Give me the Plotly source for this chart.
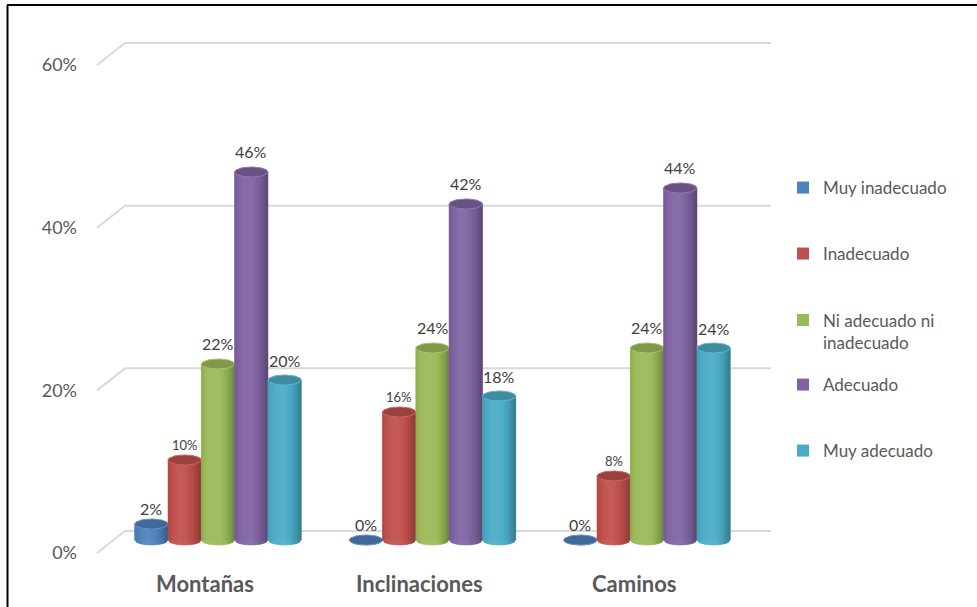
import numpy as np
import plotly.graph_objects as go

# ---- data -------------------------------------------------------------
categories = ["Montañas", "Inclinaciones", "Caminos"]
series_names = ["Muy inadecuado", "Inadecuado", "Ni adecuado ni<br>inadecuado",
                "Adecuado", "Muy adecuado"]
muy_inadecuado = [0.02, 0.00, 0.00]
inadecuado = [0.10, 0.16, 0.08]
ni_adecuado = [0.22, 0.24, 0.24]
adecuado = [0.46, 0.42, 0.44]
muy_adecuado = [0.20, 0.18, 0.24]
tick_vals = [0.0, 0.2, 0.4, 0.6]
tick_text = ["0%", "20%", "40%", "60%"]

series_values = [muy_inadecuado, inadecuado, ni_adecuado, adecuado, muy_adecuado]
colors = ["#4f81bd", "#c0504d", "#9bbb59", "#8064a2", "#4bacc6"]
label_sizes = [16, 13, 16, 16, 16]
label_shift = [16, 15, 21, 21, 20]

FONT = "Lato"

# ---- geometry of the pseudo-3D scene -----------------------------------
W, H = 977, 607
L, R, T, B = 97, 771, 20, 600           # plot area in pixels
X0, XS = 218.0, 214.5                   # pixel of category 0 centre, pixels per category
BAR_PX = 33.3
w = BAR_PX / XS                         # bar width in x units
r = w / 2
Y2_0, Y2_S = 540.0, 800.0               # bar plane: pixel of 0, pixels per unit
YG_0, YG_S = 531.0, 813.3               # back wall: pixel of 0, pixels per unit
DEPTH_PX = 22                           # front edge sits this far below back wall
e = 5.0 / Y2_S                          # half height of the cylinder caps

x_range = [(L - X0) / XS, (R - X0) / XS]
y2_range = [(Y2_0 - B) / Y2_S, (Y2_0 - T) / Y2_S]
yg_range = [(YG_0 - B) / YG_S, (YG_0 - T) / YG_S]


def px_x(p):
    return (p - L) / (R - L)


def px_y(p):
    return (B - p) / (B - T)


def shade(hexcol, f):
    c = np.array([int(hexcol[i:i + 2], 16) for i in (1, 3, 5)], dtype=float)
    if f <= 1:
        c = c * f
    else:
        c = c + (255 - c) * (f - 1)
    c = np.clip(c, 0, 255).astype(int)
    return "#%02x%02x%02x" % tuple(c)


fig = go.Figure()

N_STRIPS = 16
theta = np.linspace(0, 2 * np.pi, 61)

for k, (name, vals, col) in enumerate(zip(series_names, series_values, colors)):
    centers = [i + (k - 2) * w for i in range(len(categories))]
    legend_id = "legend" if k == 0 else f"legend{k + 1}"

    # base bar, carries the legend entry
    fig.add_trace(go.Bar(
        x=centers, y=vals, width=[w] * len(vals), base=0,
        name=name, marker=dict(color=col, line=dict(width=0)),
        xaxis="x", yaxis="y2", legend=legend_id, hoverinfo="skip",
    ))

    # cylindrical shading: vertical strips with rounded bottom
    edges = np.linspace(-r, r, N_STRIPS + 1)
    for j in range(N_STRIPS):
        xl, xr = edges[j], edges[j + 1]
        t = (xl + xr) / 2 / r
        f = 1.07 - 0.25 * (t + 0.2) ** 2
        sl = np.sqrt(max(0.0, 1 - (xl / r) ** 2))
        sr = np.sqrt(max(0.0, 1 - (xr / r) ** 2))
        xs, ys = [], []
        for c, v in zip(centers, vals):
            xs += [c + xl, c + xr, c + xr, c + xl, c + xl, None]
            ys += [v, v, -e * sr, -e * sl, v, None]
        sc = shade(col, f)
        fig.add_trace(go.Scatter(
            x=xs, y=ys, mode="lines", fill="toself", fillcolor=sc,
            line=dict(color=sc, width=0.6), xaxis="x", yaxis="y2",
            showlegend=False, hoverinfo="skip",
        ))

    # top caps
    xs, ys = [], []
    for c, v in zip(centers, vals):
        xs += list(c + r * np.cos(theta)) + [None]
        ys += list(v + e * np.sin(theta)) + [None]
    fig.add_trace(go.Scatter(
        x=xs, y=ys, mode="lines", fill="toself",
        fillcolor=shade(col, 0.82), line=dict(color=shade(col, 1.12), width=1),
        xaxis="x", yaxis="y2", showlegend=False, hoverinfo="skip",
    ))

    # value labels
    for c, v in zip(centers, vals):
        fig.add_annotation(
            x=c, y=v, xref="x", yref="y2", yshift=label_shift[k],
            text=f"{round(v * 100)}%", showarrow=False,
            font=dict(family=FONT, size=label_sizes[k], color="#404040"),
        )

# back-wall gridlines with the receding left edge
wall_left = px_x(125)
for v in tick_vals:
    fig.add_shape(type="line", xref="paper", yref="y", x0=wall_left, x1=1,
                  y0=v, y1=v, line=dict(color="#d9d9d9", width=2), layer="below")
    fig.add_shape(type="line", xref="paper", yref="y", x0=0, x1=wall_left,
                  y0=v - DEPTH_PX / YG_S, y1=v,
                  line=dict(color="#d9d9d9", width=2), layer="below")

# category labels along the front edge
for i, cat in enumerate(categories):
    fig.add_annotation(
        x=i, y=px_y(583), xref="x", yref="paper", xshift=-13,
        xanchor="center", yanchor="middle",
        text=f"<b>{cat}</b>", showarrow=False,
        font=dict(family=FONT, size=22, color="#595959"),
    )

# outer frame (top and left edges)
fig.add_shape(type="line", xref="paper", yref="paper",
              x0=px_x(7), x1=px_x(977), y0=px_y(5), y1=px_y(5),
              line=dict(color="black", width=2))
fig.add_shape(type="line", xref="paper", yref="paper",
              x0=px_x(7.5), x1=px_x(7.5), y0=px_y(5), y1=px_y(607),
              line=dict(color="black", width=2))

# one legend box per series, stacked on the right
legend_rows = [188, 254, 331.5, 385, 451]
legend_layout = {}
for k, py in enumerate(legend_rows):
    key = "legend" if k == 0 else f"legend{k + 1}"
    legend_layout[key] = dict(
        x=px_x(783), y=px_y(py), xanchor="left", yanchor="middle",
        font=dict(family=FONT, size=17, color="#595959"),
        bgcolor="rgba(0,0,0,0)", borderwidth=0, valign="top",
    )

fig.update_layout(
    width=W, height=H,
    margin=dict(l=L, r=W - R, t=T, b=H - B, pad=0),
    paper_bgcolor="white", plot_bgcolor="white",
    barmode="overlay", showlegend=True,
    xaxis=dict(range=x_range, visible=False, fixedrange=True),
    yaxis=dict(range=yg_range, tickvals=tick_vals, ticktext=tick_text,
               showgrid=False, zeroline=False, showline=False, ticks="",
               ticklabelshift=DEPTH_PX, ticklabelstandoff=19,
               tickfont=dict(family=FONT, size=18, color="#595959")),
    yaxis2=dict(range=y2_range, overlaying="y", visible=False),
    **legend_layout,
)

fig.write_html("out.html")
